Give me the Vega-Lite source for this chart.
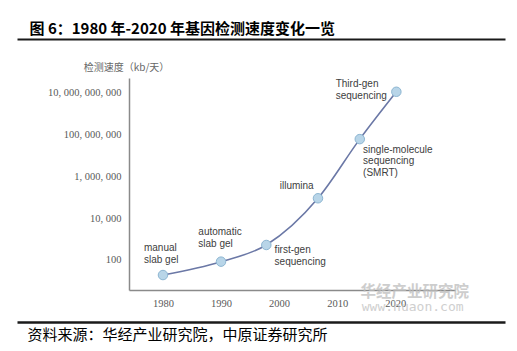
{
  "$schema": "https://vega.github.io/schema/vega-lite/v6.json",
  "width": 488,
  "height": 283,
  "autosize": {"type": "none"},
  "padding": {"left": 17, "top": 39, "right": 12, "bottom": 29},
  "background": "white",
  "config": {"view": {"stroke": null}},
  "datasets": {
    "speed": [
      {"year": 1980, "speed": 19, "tech": "manual", "label": "manual\nslab gel"},
      {"year": 1990, "speed": 83, "tech": "automatic", "label": "automatic\nslab gel"},
      {"year": 1997.8, "speed": 520, "tech": "firstgen", "label": "first-gen\nsequencing"},
      {"year": 2006.7, "speed": 89000, "tech": "illumina", "label": "illumina"},
      {"year": 2013.9, "speed": 60000000, "tech": "smrt", "label": "single-molecule\nsequencing\n(SMRT)"},
      {"year": 2020.2, "speed": 11000000000, "tech": "thirdgen", "label": "Third-gen\nsequencing"}
    ],
    "frame": [{"d": 0}, {"d": 1}]
  },
  "resolve": {"scale": {"x": "independent"}},
  "layer": [
    {
      "data": {"name": "speed"},
      "encoding": {
        "x": {
          "field": "year",
          "type": "quantitative",
          "scale": {"domain": [1974.15, 2030.3], "range": [112, 438], "nice": false, "zero": false},
          "axis": {
            "orient": "bottom",
            "offset": -32,
            "values": [1980, 1990, 2000, 2010, 2020],
            "format": "d",
            "grid": false,
            "ticks": false,
            "labelPadding": 8,
            "labelFont": "Liberation Serif",
            "labelFontSize": 10.5,
            "labelColor": "#595959",
            "domainColor": "#8a8a8a",
            "domainWidth": 1.5,
            "title": null
          }
        },
        "y": {
          "field": "speed",
          "type": "quantitative",
          "scale": {"type": "log", "domain": [3.66, 50100000000], "range": [251, 39], "nice": false},
          "axis": {
            "orient": "left",
            "offset": -112,
            "values": [100, 10000, 1000000, 100000000, 10000000000],
            "labelExpr": "replace(format(datum.value, ','), /,/g, ', ')",
            "grid": false,
            "ticks": false,
            "labelPadding": 8,
            "labelFont": "Liberation Serif",
            "labelFontSize": 10.5,
            "labelColor": "#595959",
            "domainColor": "#8a8a8a",
            "domainWidth": 1.5,
            "title": "检测速度（kb/天）",
            "titleAngle": 0,
            "titleX": -3,
            "titleY": 28,
            "titleAlign": "center",
            "titleBaseline": "middle",
            "titleFont": "Noto Sans CJK SC",
            "titleFontSize": 10,
            "titleFontWeight": "normal",
            "titleColor": "#666666"
          }
        }
      },
      "layer": [
        {"mark": {"type": "line", "interpolate": "monotone", "color": "#6b78a6", "strokeWidth": 1.6}},
        {"mark": {"type": "point", "filled": true, "size": 90, "fill": "#b8d5e8", "stroke": "#8db6d2", "strokeWidth": 1, "opacity": 1}},
        {
          "transform": [{"filter": "datum.tech == 'manual'"}],
          "mark": {"type": "text", "align": "left", "baseline": "top", "dx": -19, "dy": -32.5, "lineBreak": "\n", "lineHeight": 12.4, "font": "Liberation Sans", "fontSize": 10, "color": "#404040"},
          "encoding": {"text": {"field": "label"}}
        },
        {
          "transform": [{"filter": "datum.tech == 'automatic'"}],
          "mark": {"type": "text", "align": "left", "baseline": "top", "dx": -22.7, "dy": -35, "lineBreak": "\n", "lineHeight": 12.4, "font": "Liberation Sans", "fontSize": 10, "color": "#404040"},
          "encoding": {"text": {"field": "label"}}
        },
        {
          "transform": [{"filter": "datum.tech == 'firstgen'"}],
          "mark": {"type": "text", "align": "left", "baseline": "top", "dx": 8.3, "dy": 0, "lineBreak": "\n", "lineHeight": 12, "font": "Liberation Sans", "fontSize": 10, "color": "#404040"},
          "encoding": {"text": {"field": "label"}}
        },
        {
          "transform": [{"filter": "datum.tech == 'illumina'"}],
          "mark": {"type": "text", "align": "right", "baseline": "top", "dx": -4.3, "dy": -17.6, "lineBreak": "\n", "lineHeight": 12, "font": "Liberation Sans", "fontSize": 10, "color": "#404040"},
          "encoding": {"text": {"field": "label"}}
        },
        {
          "transform": [{"filter": "datum.tech == 'smrt'"}],
          "mark": {"type": "text", "align": "left", "baseline": "top", "dx": 3.3, "dy": 5.7, "lineBreak": "\n", "lineHeight": 11.7, "font": "Liberation Sans", "fontSize": 10, "color": "#404040"},
          "encoding": {"text": {"field": "label"}}
        },
        {
          "transform": [{"filter": "datum.tech == 'thirdgen'"}],
          "mark": {"type": "text", "align": "left", "baseline": "top", "dx": -60.7, "dy": -12.7, "lineBreak": "\n", "lineHeight": 12.3, "font": "Liberation Sans", "fontSize": 10, "color": "#404040"},
          "encoding": {"text": {"field": "label"}}
        },
        {
          "transform": [{"filter": "datum.tech == 'thirdgen'"}],
          "mark": {"type": "text", "align": "center", "baseline": "middle", "dx": 18.3, "dy": 200.3, "font": "Noto Sans CJK SC", "fontSize": 15.5, "fontWeight": "bold", "color": "#bdbdbd", "opacity": 0.75},
          "encoding": {"text": {"value": "华经产业研究院"}}
        },
        {
          "transform": [{"filter": "datum.tech == 'thirdgen'"}],
          "mark": {"type": "text", "align": "center", "baseline": "middle", "dx": 16.3, "dy": 215.5, "font": "DejaVu Sans Mono", "fontSize": 13, "color": "#c4c4c4", "opacity": 0.8},
          "encoding": {"text": {"value": "www.huaon.com"}}
        }
      ]
    },
    {
      "data": {"name": "frame"},
      "mark": {"type": "point", "opacity": 0},
      "encoding": {
        "x": {
          "field": "d",
          "type": "quantitative",
          "scale": {"domain": [0, 1], "nice": false, "zero": false},
          "axis": {
            "orient": "top",
            "offset": 0,
            "domain": true,
            "domainColor": "#1a1a1a",
            "domainWidth": 2,
            "ticks": false,
            "labels": false,
            "grid": false,
            "title": "图 6：1980 年-2020 年基因检测速度变化一览",
            "titleX": 12,
            "titleY": -11,
            "titleAlign": "left",
            "titleBaseline": "middle",
            "titleFont": "Noto Sans CJK SC",
            "titleFontSize": 15,
            "titleFontWeight": "bold",
            "titleColor": "#000000"
          }
        }
      }
    },
    {
      "data": {"name": "frame"},
      "mark": {"type": "point", "opacity": 0},
      "encoding": {
        "x": {
          "field": "d",
          "type": "quantitative",
          "scale": {"domain": [0, 1], "nice": false, "zero": false},
          "axis": {
            "orient": "bottom",
            "offset": 0,
            "domain": true,
            "domainColor": "#1a1a1a",
            "domainWidth": 2.5,
            "ticks": false,
            "labels": false,
            "grid": false,
            "title": "资料来源：华经产业研究院，中原证券研究所",
            "titleX": 10,
            "titleY": 12,
            "titleAlign": "left",
            "titleBaseline": "middle",
            "titleFont": "Noto Sans CJK SC",
            "titleFontSize": 15,
            "titleFontWeight": "normal",
            "titleColor": "#000000"
          }
        }
      }
    }
  ]
}
